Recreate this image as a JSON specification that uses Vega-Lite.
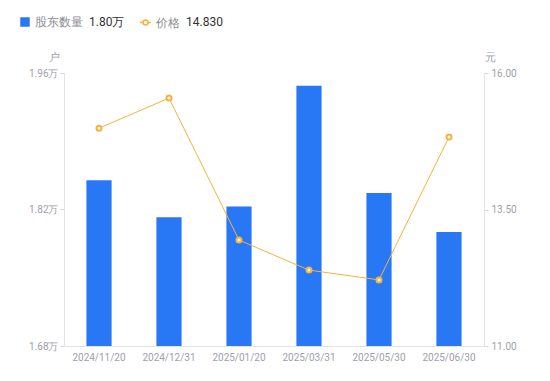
{
  "$schema": "https://vega.github.io/schema/vega-lite/v6.json",
  "autosize": {"type": "none"},
  "width": 420,
  "height": 273,
  "padding": {"left": 64, "top": 73, "right": 66, "bottom": 35},
  "background": "white",
  "config": {
    "view": {"stroke": null},
    "font": "Roboto",
    "axis": {"labelFont": "Roboto", "titleFont": "Roboto", "labelColor": "#a0a0ab", "titleColor": "#a0a0ab", "labelFontSize": 10, "titleFontSize": 11, "titleFontWeight": "normal", "domainColor": "#e3e3e3", "tickColor": "#d8d8d8", "grid": false},
    "legend": {"labelFont": "Roboto", "titleFont": "Roboto", "labelFontSize": 12, "titleFontSize": 12, "labelColor": "#8c8c96", "titleColor": "#333333", "titleFontWeight": "normal"}
  },
  "data": {"values": [
    {"date": "2024/11/20", "holders": 1.850, "price": 14.99},
    {"date": "2024/12/31", "holders": 1.812, "price": 15.54},
    {"date": "2025/01/20", "holders": 1.823, "price": 12.94},
    {"date": "2025/03/31", "holders": 1.947, "price": 12.39},
    {"date": "2025/05/30", "holders": 1.837, "price": 12.21},
    {"date": "2025/06/30", "holders": 1.797, "price": 14.83}
  ]},
  "encoding": {
    "x": {"field": "date", "type": "ordinal", "sort": null, "scale": {"paddingInner": 0.64, "paddingOuter": 0.32},
      "axis": {"title": null, "labelAngle": 0, "ticks": false, "labelPadding": 6, "labelFontSize": 10}}
  },
  "layer": [
    {
      "mark": {"type": "bar", "clip": true},
      "encoding": {
        "y": {"field": "holders", "type": "quantitative", "scale": {"domain": [1.68, 1.96], "zero": false, "nice": false},
          "axis": {"orient": "left", "values": [1.68, 1.82, 1.96], "labelExpr": "format(datum.value, '.2f') + '万'", "tickSize": 4, "labelPadding": 2, "title": "户", "titleAngle": 0, "titleAlign": "center", "titleBaseline": "middle", "titleX": -10, "titleY": -16}},
        "fill": {"datum": "股东数量", "type": "nominal", "scale": {"range": ["#2878f5"]},
          "legend": {"orient": "none", "legendX": -45, "legendY": -57, "title": "1.80万", "titleOrient": "right", "titlePadding": 6, "symbolType": "square", "symbolSize": 90, "symbolOpacity": 1, "labelOffset": 4}}
      }
    },
    {
      "mark": {"type": "line", "strokeWidth": 1, "point": {"filled": false, "fill": "white", "size": 25, "strokeWidth": 2}},
      "encoding": {
        "y": {"field": "price", "type": "quantitative", "scale": {"domain": [11, 16], "zero": false, "nice": false},
          "axis": {"orient": "right", "values": [11, 13.5, 16], "format": ".2f", "tickSize": 4, "labelPadding": 3, "title": "元", "titleAngle": 0, "titleAlign": "center", "titleBaseline": "middle", "titleX": 6, "titleY": -16}},
        "stroke": {"datum": "价格", "type": "nominal", "scale": {"range": ["#f7b23b"]},
          "legend": {"orient": "none", "legendX": 75, "legendY": -57, "title": "14.830", "titleOrient": "right", "titlePadding": 6, "symbolType": "M-1,0H-0.45M0.45,0H1M0.45,0A0.45,0.45 0 1,1 -0.45,0A0.45,0.45 0 1,1 0.45,0", "symbolSize": 120, "symbolStrokeWidth": 1.5, "symbolFillColor": "white", "labelOffset": 4}}
      }
    }
  ],
  "resolve": {"scale": {"y": "independent"}}
}
